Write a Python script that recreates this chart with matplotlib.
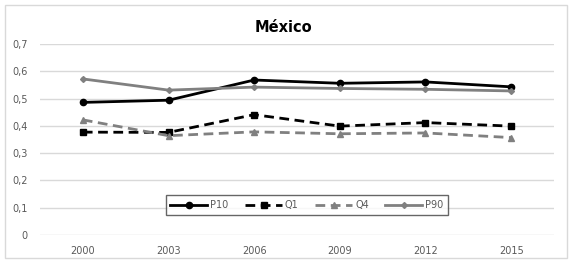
import matplotlib.pyplot as plt
from matplotlib.patches import Rectangle

years = ["2000", "2003", "2006", "2009", "2012", "2015"]
p10 = [0.486, 0.494, 0.568, 0.556, 0.561, 0.543]
q1 = [0.377, 0.376, 0.441, 0.399, 0.412, 0.399]
q4 = [0.422, 0.364, 0.378, 0.371, 0.374, 0.357]
p90 = [0.572, 0.531, 0.542, 0.537, 0.534, 0.528]

W, H = 573, 264
fig = plt.figure(figsize=(W / 100, H / 100), dpi=100)
ax = fig.add_axes([40 / W, 1 - 235 / H, 514 / W, 191 / H])

# chart border
fig.patches.append(Rectangle((5 / W, 6 / H), 562 / W, 253 / H, transform=fig.transFigure,
                             fill=False, edgecolor="#d9d9d9", linewidth=1))

x = range(len(years))
ax.plot(x, p10, color="black", lw=2.0, marker="o", ms=4.5, label="P10")
ax.plot(x, q1, color="black", lw=2.0, ls=(0, (3.5, 2)), marker="s", ms=4.2, label="Q1")
ax.plot(x, q4, color="#808080", lw=2.0, ls=(0, (3.5, 2)), marker="^", ms=4.5, label="Q4")
ax.plot(x, p90, color="#808080", lw=2.0, marker="D", ms=3, label="P90")

ax.set_xlim(-0.5, len(years) - 0.5)
ax.set_ylim(0, 0.7)
ax.set_yticks([0, 0.1, 0.2, 0.3, 0.4, 0.5, 0.6, 0.7])
ax.set_yticklabels(["0", "0,1", "0,2", "0,3", "0,4", "0,5", "0,6", "0,7"])
ax.set_xticks(list(x))
ax.set_xticklabels(years)
ax.tick_params(length=0, labelsize=7, labelcolor="#595959")
ax.tick_params(axis="x", pad=8)
ax.tick_params(axis="y", pad=9)
ax.grid(axis="y", color="#d9d9d9", lw=1)
ax.set_axisbelow(True)
for s in ax.spines.values():
    s.set_visible(False)

fig.text(283 / W, 1 - 27 / H, "México", ha="center", va="center",
         fontsize=10.5, fontweight="bold")

leg = ax.legend(loc="center", bbox_to_anchor=(307 / W, 1 - 205 / H), bbox_transform=fig.transFigure,
                ncol=4, fontsize=7, frameon=True, fancybox=False, handlelength=3.8,
                handletextpad=0.3, columnspacing=1.7, borderpad=0.5)
leg.get_frame().set_edgecolor("#404040")
leg.get_frame().set_linewidth(1)
for t in leg.get_texts():
    t.set_color("#595959")

plt.savefig("out.png", dpi=100)
